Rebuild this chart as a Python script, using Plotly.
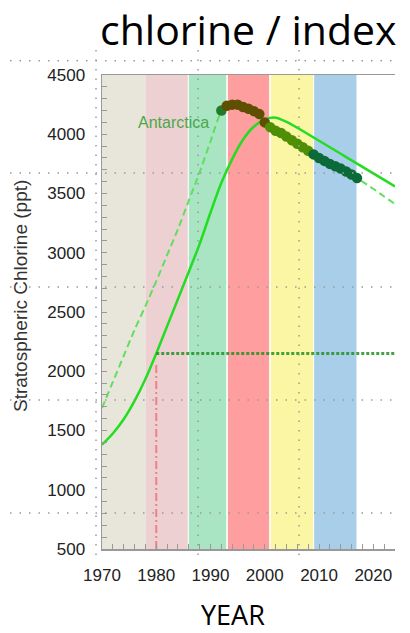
import plotly.graph_objects as go

# ---- data ----
model_years = [1970, 1972, 1974, 1976, 1978, 1980, 1982, 1984, 1986, 1988, 1990, 1992, 1994,
               1996, 1998, 2000, 2002, 2004, 2006, 2008, 2010, 2012, 2014, 2016, 2018, 2020,
               2022, 2024]
midlat_chlorine = [1380, 1475, 1595, 1750, 1935, 2150, 2380, 2610, 2840, 3075, 3340, 3590, 3790,
                   3955, 4065, 4125, 4140, 4105, 4055, 4000, 3945, 3890, 3835, 3780, 3725, 3670,
                   3615, 3560]

antarctic_years = [1970, 1972, 1974, 1976, 1978, 1980, 1982, 1984, 1986, 1988, 1990, 1992, 1994,
                   1996, 1998, 2000, 2002, 2004, 2006, 2008, 2010, 2012, 2014, 2016, 2018, 2020,
                   2022, 2024]
antarctic_chlorine = [1690, 1910, 2130, 2350, 2550, 2760, 2980, 3200, 3440, 3680, 3940, 4190, 4250,
                      4230, 4195, 4100, 4030, 3980, 3920, 3860, 3800, 3750, 3710, 3660, 3600, 3540,
                      3475, 3411]

obs_years = [1992, 1993, 1994, 1995, 1996, 1997, 1998, 1999, 2000, 2001, 2002, 2003, 2004, 2005,
             2006, 2007, 2008, 2009, 2010, 2011, 2012, 2013, 2014, 2015, 2016, 2017]
obs_chlorine = [4200, 4240, 4250, 4250, 4230, 4215, 4195, 4170, 4100, 4060, 4030, 4010, 3980, 3950,
                3920, 3890, 3860, 3830, 3800, 3775, 3750, 3730, 3710, 3685, 3660, 3630]

band_starts = [1970, 1978, 1986, 1993.2, 2001.1, 2009.1]
band_ends = [1978, 1985.8, 1992.9, 2000.8, 2008.9, 2016.9]
band_colors = ["#E8E6DA", "#EDD1D2", "#A9E4C3", "#FF9E9E", "#FAF6A4", "#A9CEEA"]

ref_year = 1980
ref_level = 2150

x_ticks = [1970, 1980, 1990, 2000, 2010, 2020]
y_ticks = [500, 1000, 1500, 2000, 2500, 3000, 3500, 4000, 4500]

# ---- geometry (body margin removed below, so figure fills the window) ----
W, H = 410, 633
ML, MR, MT, MB = 102, 15, 75, 84
PW, PH = W - ML - MR, H - MT - MB


def px(xp):
    return (xp - ML) / PW


def py(yp):
    return (H - MB - yp) / PH


def obs_color(yr):
    if yr < 1993:
        return "#237a2a"
    if yr < 2001:
        return "#5e5000"
    if yr < 2009:
        return "#4f8f05"
    return "#0b6b38"


fig = go.Figure()

fig.add_trace(go.Scatter(x=antarctic_years, y=antarctic_chlorine, mode="lines",
                         line=dict(color="#5ee05e", width=2, dash="7px,4px", shape="spline",
                                   smoothing=0.6),
                         hoverinfo="skip", showlegend=False))
fig.add_trace(go.Scatter(x=model_years, y=midlat_chlorine, mode="lines",
                         line=dict(color="#22dd22", width=2.5, shape="spline", smoothing=0.8),
                         hoverinfo="skip", showlegend=False))
fig.add_trace(go.Scatter(x=obs_years, y=obs_chlorine, mode="markers",
                         marker=dict(color=[obs_color(y) for y in obs_years], size=10.5,
                                     line=dict(width=0)),
                         hoverinfo="skip", showlegend=False))
fig.add_trace(go.Scatter(x=[ref_year, 2024], y=[ref_level, ref_level], mode="lines",
                         line=dict(color="rgba(35,145,35,0.85)", width=3, dash="3px,2px"),
                         hoverinfo="skip", showlegend=False))
fig.add_trace(go.Scatter(x=[ref_year, ref_year], y=[500, 2070], mode="lines",
                         line=dict(color="#f08080", width=2, dash="8px,3px,2px,3px"),
                         hoverinfo="skip", showlegend=False))

shapes = []
for x0, x1, c in zip(band_starts, band_ends, band_colors):
    shapes.append(dict(type="rect", xref="x", yref="y", x0=x0, x1=x1, y0=500, y1=4500,
                       fillcolor=c, line=dict(width=0), layer="below"))

grid_style = dict(color="#9a9a9a", width=1.5, dash="1.5px,8px")
for yp in [60.7, 173, 287, 400, 513]:
    shapes.append(dict(type="line", xref="paper", yref="paper", x0=px(10), x1=px(395),
                       y0=py(yp), y1=py(yp), line=grid_style, layer="above"))
for xp in [96, 198, 299]:
    shapes.append(dict(type="line", xref="paper", yref="paper", x0=px(xp), x1=px(xp),
                       y0=py(50), y1=py(560), line=grid_style, layer="above"))

annotations = [
    dict(text="chlorine / index", xref="paper", yref="paper", x=px(248), y=py(29),
         xanchor="center", yanchor="middle", showarrow=False,
         font=dict(family="Open Sans", size=41, color="#000")),
    dict(text="YEAR", xref="paper", yref="paper", x=px(233), y=py(614),
         xanchor="center", yanchor="middle", showarrow=False,
         font=dict(family="Open Sans", size=27, color="#000")),
    dict(text="Stratospheric Chlorine (ppt)", xref="paper", yref="paper", x=px(20), y=py(296),
         xanchor="center", yanchor="middle", showarrow=False, textangle=-90,
         font=dict(family="Liberation Sans", size=19, color="#333")),
    dict(text="Antarctica", xref="x", yref="y", x=1983.2, y=4095,
         xanchor="center", yanchor="middle", showarrow=False,
         font=dict(family="Liberation Sans", size=16, color="#4aa84a")),
]

fig.update_layout(
    width=W, height=H, margin=dict(l=ML, r=MR, t=MT, b=MB),
    paper_bgcolor="white", plot_bgcolor="white",
    shapes=shapes, annotations=annotations,
    font=dict(family="Liberation Sans", size=17, color="#222"),
)
fig.update_xaxes(range=[1970, 2024], tickvals=x_ticks, ticks="inside", ticklen=5,
                 tickcolor="#999", showline=True, linecolor="#999", linewidth=1.5,
                 mirror=True, showgrid=False, zeroline=False, ticklabelstandoff=10,
                 minor=dict(dtick=2, ticks="inside", ticklen=5, tickcolor="#999"),
                 tickfont=dict(size=17, color="#222"))
fig.update_yaxes(range=[500, 4500], tickvals=y_ticks, ticks="inside", ticklen=5,
                 tickcolor="#999", showline=True, linecolor="#999", linewidth=1.5,
                 showgrid=False, zeroline=False, ticklabelstandoff=12,
                 minor=dict(dtick=100, ticks="inside", ticklen=5, tickcolor="#999"),
                 tickfont=dict(size=17, color="#222"))

fig.write_html("out.html",
               config={"displayModeBar": False, "staticPlot": True},
               post_script="document.body.style.margin='0';document.body.style.overflow='hidden';")
